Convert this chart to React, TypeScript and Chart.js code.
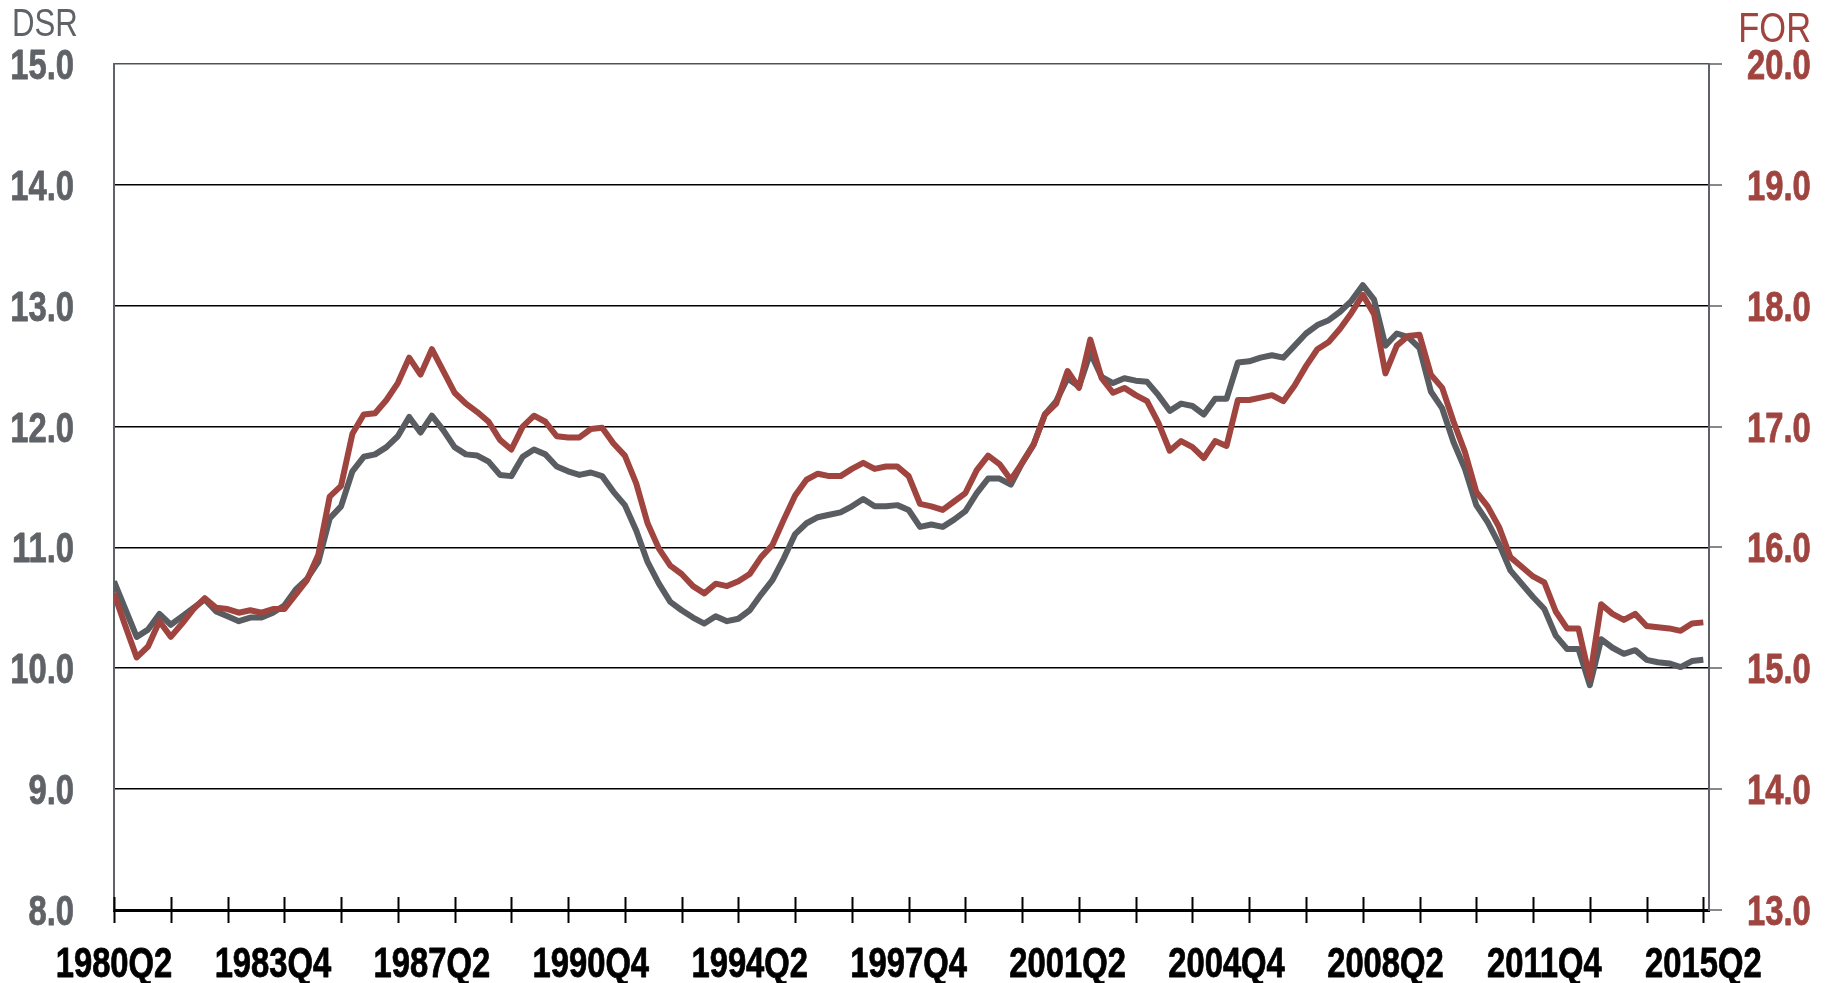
import React, { useEffect, useRef } from "react";
import { Chart, registerables } from "chart.js";

Chart.register(...registerables);

// Quarterly categories 1980Q2 .. 2015Q2
const startYear = 1980;
const startQuarter = 2;
const quarterCount = 141;
const quarters: string[] = Array.from({ length: quarterCount }, (_, i) => {
  const q = startQuarter - 1 + i;
  return `${startYear + Math.floor(q / 4)}Q${(q % 4) + 1}`;
});

// Labelled categories and tick mark spacing
const xTickLabels = ["1980Q2", "1983Q4", "1987Q2", "1990Q4", "1994Q2", "1997Q4", "2001Q2", "2004Q4", "2008Q2", "2011Q4", "2015Q2"];
const tickMarkEvery = 5;

// Debt service ratio (left axis)
const dsr = [
  10.72, 10.49, 10.26, 10.32, 10.45, 10.36, 10.43, 10.50, 10.57, 10.47,
  10.43, 10.39, 10.42, 10.42, 10.46, 10.52, 10.65, 10.74, 10.88, 11.24,
  11.34, 11.63, 11.75, 11.77, 11.83, 11.92, 12.08, 11.95, 12.09, 11.97,
  11.83, 11.77, 11.76, 11.71, 11.60, 11.59, 11.75, 11.81, 11.77, 11.67,
  11.63, 11.60, 11.62, 11.59, 11.46, 11.35, 11.14, 10.88, 10.70, 10.55,
  10.48, 10.42, 10.37, 10.43, 10.39, 10.41, 10.48, 10.61, 10.73, 10.91,
  11.11, 11.20, 11.25, 11.27, 11.29, 11.34, 11.40, 11.34, 11.34, 11.35,
  11.31, 11.17, 11.19, 11.17, 11.23, 11.30, 11.45, 11.57, 11.57, 11.52,
  11.70, 11.85, 12.10, 12.21, 12.40, 12.33, 12.61, 12.41, 12.36, 12.40,
  12.38, 12.37, 12.26, 12.13, 12.19, 12.17, 12.10, 12.23, 12.23, 12.53,
  12.54, 12.57, 12.59, 12.57, 12.67, 12.77, 12.84, 12.88, 12.95, 13.04,
  13.17, 13.05, 12.67, 12.77, 12.74, 12.65, 12.29, 12.15, 11.87, 11.65,
  11.35, 11.21, 11.03, 10.81, 10.70, 10.59, 10.49, 10.27, 10.16, 10.16,
  9.86, 10.24, 10.17, 10.12, 10.15, 10.07, 10.05, 10.04, 10.01, 10.06,
  10.07,
];

// Financial obligations ratio (right axis)
const forRatio = [
  15.62, 15.35, 15.09, 15.18, 15.39, 15.26, 15.37, 15.49, 15.58, 15.50,
  15.49, 15.46, 15.48, 15.46, 15.49, 15.49, 15.61, 15.73, 15.94, 16.42,
  16.51, 16.94, 17.10, 17.11, 17.22, 17.36, 17.57, 17.43, 17.64, 17.46,
  17.28, 17.19, 17.12, 17.04, 16.89, 16.81, 17.00, 17.09, 17.04, 16.92,
  16.91, 16.91, 16.98, 16.99, 16.86, 16.76, 16.53, 16.20, 15.99, 15.85,
  15.78, 15.68, 15.62, 15.70, 15.68, 15.72, 15.78, 15.92, 16.02, 16.23,
  16.43, 16.56, 16.61, 16.59, 16.59, 16.65, 16.70, 16.65, 16.67, 16.67,
  16.59, 16.36, 16.34, 16.31, 16.38, 16.45, 16.64, 16.76, 16.69, 16.56,
  16.70, 16.85, 17.10, 17.19, 17.46, 17.32, 17.72, 17.40, 17.28, 17.32,
  17.26, 17.21, 17.03, 16.80, 16.88, 16.83, 16.74, 16.88, 16.84, 17.22,
  17.22, 17.24, 17.26, 17.21, 17.34, 17.50, 17.64, 17.70, 17.81, 17.94,
  18.09, 17.93, 17.44, 17.67, 17.75, 17.76, 17.43, 17.32, 17.04, 16.79,
  16.46, 16.34, 16.17, 15.92, 15.84, 15.76, 15.71, 15.47, 15.33, 15.33,
  14.92, 15.53, 15.45, 15.40, 15.45, 15.35, 15.34, 15.33, 15.31, 15.37,
  15.38,
];

const GRAY = "#595d61";
const RED = "#a0443f";
const GRAY_TEXT = "#5f6367";
const RED_TEXT = "#a0443f";
const FONT = "'Liberation Sans', Arial, sans-serif";

function narrowText(ctx: any, text: string, x: number, y: number, align: string, font: string, color: string, sx: number, stroke = 0) {
  ctx.save();
  ctx.translate(x, y);
  ctx.scale(sx, 1);
  ctx.font = font;
  ctx.fillStyle = color;
  ctx.textAlign = align;
  ctx.textBaseline = "alphabetic";
  ctx.fillText(text, 0, 0);
  if (stroke > 0) {
    ctx.strokeStyle = color;
    ctx.lineWidth = stroke;
    ctx.lineJoin = "round";
    ctx.strokeText(text, 0, 0);
  }
  ctx.restore();
}

export default function App() {
  const canvasRef = useRef<HTMLCanvasElement | null>(null);

  useEffect(() => {
    const canvas = canvasRef.current;
    if (!canvas) return;

    const extras = {
      id: "extras",
      afterDraw(chart: any) {
        const ctx = chart.ctx;
        const xs = chart.scales.x;
        const yl = chart.scales.y;
        const yr = chart.scales.y2;
        const area = chart.chartArea;
        const bottom = area.bottom;
        ctx.save();
        ctx.strokeStyle = "#000";
        ctx.lineWidth = 2;
        for (let i = 0; i < quarters.length; i += tickMarkEvery) {
          const px = Math.round(xs.getPixelForValue(i)) + 0.5;
          ctx.beginPath();
          ctx.moveTo(px, bottom - 13);
          ctx.lineTo(px, bottom + 13);
          ctx.stroke();
        }
        ctx.restore();

        const boldFont = `bold 42px ${FONT}`;
        const sx = 0.78;
        // x labels
        xTickLabels.forEach((l) => {
          const px = xs.getPixelForValue(quarters.indexOf(l));
          narrowText(ctx, l, px, 977, "center", boldFont, "#000", sx, 0.8);
        });
        // left y labels
        yl.ticks.forEach((t: any) => {
          const py = yl.getPixelForValue(t.value);
          narrowText(ctx, Number(t.value).toFixed(1), area.left - 40, py + 15, "right", boldFont, GRAY_TEXT, sx, 0.8);
        });
        // right y labels
        yr.ticks.forEach((t: any) => {
          const py = yr.getPixelForValue(t.value);
          narrowText(ctx, Number(t.value).toFixed(1), area.right + 38, py + 15, "left", boldFont, RED_TEXT, sx, 0.8);
        });
        // axis titles
        narrowText(ctx, "DSR", 12, 36, "left", `38px ${FONT}`, GRAY_TEXT, 0.82);
        narrowText(ctx, "FOR", 1811, 42, "right", `42px ${FONT}`, RED_TEXT, 0.82);
      },
    };

    const chart = new Chart(canvas, {
      type: "line",
      data: {
        datasets: [
          {
            label: "FOR",
            data: forRatio.map((v, i) => ({ x: i, y: v })),
            yAxisID: "y2",
            borderColor: RED,
            borderWidth: 6,
            pointRadius: 0,
            tension: 0,
            borderJoinStyle: "round",
          },
          {
            label: "DSR",
            data: dsr.map((v, i) => ({ x: i, y: v })),
            yAxisID: "y",
            borderColor: GRAY,
            borderWidth: 6,
            pointRadius: 0,
            tension: 0,
            borderJoinStyle: "round",
          },
        ],
      },
      plugins: [extras],
      options: {
        responsive: false,
        animation: false,
        layout: { padding: { top: 64, left: 0, right: 0, bottom: 0 } },
        plugins: {
          legend: { display: false },
          tooltip: { enabled: false },
        },
        scales: {
          x: {
            type: "linear",
            min: 0,
            max: quarters.length - 0.5,
            afterFit(scale: any) {
              scale.height = 73;
            },
            afterBuildTicks(scale: any) {
              scale.ticks = xTickLabels.map((l) => ({ value: quarters.indexOf(l) }));
            },
            ticks: { display: false, autoSkip: false },
            grid: { drawOnChartArea: false, drawTicks: false },
            border: { display: true, color: "#000", width: 3 },
          },
          y: {
            position: "left",
            min: 8,
            max: 15,
            afterFit(scale: any) {
              scale.width = 114;
            },
            ticks: { display: false, stepSize: 1 },
            grid: {
              drawTicks: false,
              color: (c: any) => (c.tick && c.tick.value === 15 ? "#505458" : "#000"),
              lineWidth: 1.6,
            },
            border: { display: true, color: "#5f6367", width: 2 },
          },
          y2: {
            position: "right",
            min: 13,
            max: 20,
            afterFit(scale: any) {
              scale.width = 122;
            },
            ticks: { display: false, stepSize: 1 },
            grid: {
              drawOnChartArea: false,
              drawTicks: true,
              tickLength: 13,
              color: "#85898d",
              lineWidth: 2,
            },
            border: { display: true, color: "#5f6367", width: 2 },
          },
        },
      },
    } as any);

    return () => chart.destroy();
  }, []);

  return (
    <div style={{ position: "fixed", left: 0, top: 0, width: 1831, height: 983, background: "#fff" }}>
      <canvas ref={canvasRef} width={1831} height={983} style={{ display: "block" }} />
    </div>
  );
}
